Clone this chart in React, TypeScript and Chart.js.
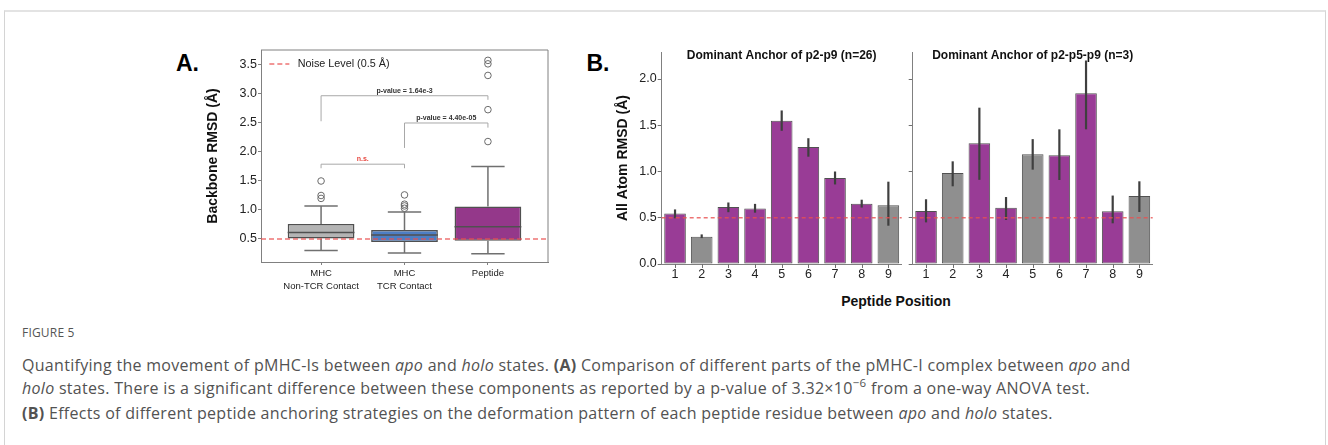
import React, { useEffect, useRef } from 'react';
import { Chart, registerables } from 'chart.js';
Chart.register(...registerables);

const FONT = "'Liberation Sans', Arial, Helvetica, sans-serif";
Chart.defaults.font.family = FONT;

// ---------- Panel A data ----------
const groupLabels = [['MHC', 'Non-TCR Contact'], ['MHC', 'TCR Contact'], ['Peptide']];
const boxQ1 = [0.51, 0.45, 0.47];
const boxQ3 = [0.76, 0.655, 1.06];
const boxMedian = [0.61, 0.57, 0.71];
const whiskerLow = [0.3, 0.26, 0.245];
const whiskerHigh = [1.07, 0.965, 1.75];
const outliers = [
  [1.5, 1.25, 1.2],
  [1.26, 1.1, 1.07, 1.03],
  [2.18, 2.73, 3.32, 3.52, 3.58],
];
const boxColors = ['#b4b4b4', '#4d7ec4', '#94388a'];
const yTicksA = [0.5, 1.0, 1.5, 2.0, 2.5, 3.0, 3.5];
const NOISE = 0.5;
const noiseLabel = 'Noise Level (0.5 Å)';

const bracketFrom = [0, 1, 0];
const bracketTo = [1, 2, 2];
const bracketTop = [1.79, 2.5, 2.97];
const bracketLegFrom = [1.72, 2.07, 2.53];
const bracketLegTo = [1.72, 2.42, 2.9];
const bracketText = ['n.s.', 'p-value = 4.40e-05', 'p-value = 1.64e-3'];
const bracketTextColor = ['#e8473f', '#333333', '#333333'];

// ---------- Panel B data ----------
const positions = ['1', '2', '3', '4', '5', '6', '7', '8', '9'];
const yTicksB = [0, 0.5, 1.0, 1.5, 2.0];
const titleP2P9 = 'Dominant Anchor of p2-p9 (n=26)';
const p2p9Mean = [0.545, 0.295, 0.615, 0.6, 1.55, 1.265, 0.93, 0.652, 0.634];
const p2p9Low = [0.494, 0.28, 0.56, 0.555, 1.44, 1.16, 0.86, 0.61, 0.414];
const p2p9High = [0.59, 0.32, 0.665, 0.65, 1.66, 1.36, 1.0, 0.695, 0.89];
const p2p9Anchor = [false, true, false, false, false, false, false, false, true];

const titleP2P5P9 = 'Dominant Anchor of p2-p5-p9 (n=3)';
const p2p5p9Mean = [0.573, 0.984, 1.305, 0.609, 1.186, 1.175, 1.845, 0.57, 0.735];
const p2p5p9Low = [0.45, 0.84, 0.91, 0.476, 1.02, 0.908, 1.456, 0.44, 0.562];
const p2p5p9High = [0.7, 1.11, 1.69, 0.724, 1.35, 1.456, 2.2, 0.74, 0.894];
const p2p5p9Anchor = [false, true, false, false, true, false, false, false, true];

const PURPLE = '#993c96';
const GRAY = '#8f8f8f';
const NOISE_COLOR = 'rgba(232, 80, 80, 0.8)';

// ---------- plugins ----------
const boxPlugin = {
  id: 'boxExtras',
  afterDatasetsDraw(chart: any) {
    const { ctx, chartArea: ca, scales } = chart;
    const x = scales.x;
    const y = scales.y;
    const meta = chart.getDatasetMeta(0);
    ctx.save();
    meta.data.forEach((bar: any, i: number) => {
      const cx = bar.x;
      const hw = bar.width / 2;
      const yHi = y.getPixelForValue(whiskerHigh[i]);
      const yLo = y.getPixelForValue(whiskerLow[i]);
      ctx.strokeStyle = '#707070';
      ctx.lineWidth = 1.5;
      ctx.beginPath();
      ctx.moveTo(cx, y.getPixelForValue(boxQ3[i]));
      ctx.lineTo(cx, yHi);
      ctx.moveTo(cx, y.getPixelForValue(boxQ1[i]));
      ctx.lineTo(cx, yLo);
      ctx.moveTo(cx - hw / 2, yHi);
      ctx.lineTo(cx + hw / 2, yHi);
      ctx.moveTo(cx - hw / 2, yLo);
      ctx.lineTo(cx + hw / 2, yLo);
      ctx.stroke();
      ctx.strokeStyle = '#505050';
      ctx.beginPath();
      const ym = y.getPixelForValue(boxMedian[i]);
      ctx.moveTo(cx - hw, ym);
      ctx.lineTo(cx + hw, ym);
      ctx.stroke();
    });
    // noise line
    const yn = y.getPixelForValue(NOISE);
    ctx.strokeStyle = NOISE_COLOR;
    ctx.lineWidth = 1.3;
    ctx.setLineDash([5, 3]);
    ctx.beginPath();
    ctx.moveTo(ca.left, yn);
    ctx.lineTo(ca.right, yn);
    ctx.stroke();
    // legend
    const ly = y.getPixelForValue(3.5) - 1;
    ctx.beginPath();
    ctx.moveTo(x.getPixelForValue(-0.62), ly);
    ctx.lineTo(x.getPixelForValue(-0.38), ly);
    ctx.stroke();
    ctx.setLineDash([]);
    ctx.fillStyle = '#222';
    ctx.font = `10.8px ${FONT}`;
    ctx.textAlign = 'left';
    ctx.textBaseline = 'middle';
    ctx.fillText(noiseLabel, x.getPixelForValue(-0.28), ly);
    // top/right spines
    ctx.strokeStyle = '#808080';
    ctx.lineWidth = 1;
    ctx.beginPath();
    ctx.moveTo(ca.left, ca.top);
    ctx.lineTo(ca.right, ca.top);
    ctx.lineTo(ca.right, ca.bottom);
    ctx.stroke();
    // brackets
    bracketText.forEach((t, i) => {
      const x1 = x.getPixelForValue(bracketFrom[i]);
      const x2 = x.getPixelForValue(bracketTo[i]);
      const yt = y.getPixelForValue(bracketTop[i]);
      ctx.strokeStyle = '#a8a8a8';
      ctx.lineWidth = 1;
      ctx.beginPath();
      ctx.moveTo(x1, y.getPixelForValue(bracketLegFrom[i]));
      ctx.lineTo(x1, yt);
      ctx.lineTo(x2, yt);
      ctx.lineTo(x2, y.getPixelForValue(bracketLegTo[i]));
      ctx.stroke();
      ctx.fillStyle = bracketTextColor[i];
      ctx.font = `bold 7px ${FONT}`;
      ctx.textAlign = 'center';
      ctx.textBaseline = 'bottom';
      ctx.fillText(t, (x1 + x2) / 2, yt - 1.5);
    });
    ctx.restore();
  },
};

const makeBarPlugin = (low: number[], high: number[], title: string) => ({
  id: 'barExtras',
  afterDatasetsDraw(chart: any) {
    const { ctx, chartArea: ca, scales } = chart;
    const y = scales.y;
    const meta = chart.getDatasetMeta(0);
    ctx.save();
    // x tick marks under each bar centre
    ctx.strokeStyle = '#707070';
    ctx.lineWidth = 1;
    ctx.beginPath();
    meta.data.forEach((bar: any) => {
      const bx = Math.round(bar.x) + 0.5;
      ctx.moveTo(bx, ca.bottom);
      ctx.lineTo(bx, ca.bottom + 4);
    });
    ctx.stroke();
    // error bars
    ctx.strokeStyle = '#3f3f3f';
    ctx.lineWidth = 2.2;
    meta.data.forEach((bar: any, i: number) => {
      ctx.beginPath();
      ctx.moveTo(bar.x, y.getPixelForValue(low[i]));
      ctx.lineTo(bar.x, y.getPixelForValue(high[i]));
      ctx.stroke();
    });
    const yn = y.getPixelForValue(NOISE);
    ctx.strokeStyle = NOISE_COLOR;
    ctx.lineWidth = 1.4;
    ctx.setLineDash([4, 3]);
    ctx.beginPath();
    ctx.moveTo(ca.left, yn);
    ctx.lineTo(ca.right, yn);
    ctx.stroke();
    ctx.setLineDash([]);
    ctx.fillStyle = '#111';
    ctx.font = `bold 12px ${FONT}`;
    ctx.textAlign = 'center';
    ctx.textBaseline = 'middle';
    ctx.fillText(title, (ca.left + ca.right) / 2, ca.top + 3.5);
    ctx.restore();
  },
});

// ---------- configs ----------
const configA = () => ({
  type: 'bar',
  data: {
    datasets: [
      {
        type: 'bar',
        data: boxQ1.map((q, i) => ({ x: i, y: [q, boxQ3[i]] })),
        backgroundColor: boxColors,
        borderColor: '#505050',
        borderWidth: 1.5,
        borderSkipped: false,
        barPercentage: 0.8,
        categoryPercentage: 1,
      },
      {
        type: 'scatter',
        data: outliers.flatMap((arr, i) => arr.map((v) => ({ x: i, y: v }))),
        pointRadius: 3.3,
        pointBackgroundColor: 'rgba(255,255,255,0)',
        pointBorderColor: '#6a6a6a',
        pointBorderWidth: 1,
      },
    ],
  },
  options: {
    animation: false,
    responsive: false,
    events: [],
    layout: { padding: { left: 44.6, top: 10, right: 12, bottom: 0 } },
    plugins: { legend: { display: false }, tooltip: { enabled: false } },
    scales: {
      x: {
        type: 'linear',
        offset: false,
        min: -0.72,
        max: 2.72,
        afterBuildTicks: (s: any) => {
          s.ticks = [0, 1, 2].map((v) => ({ value: v }));
        },
        ticks: {
          callback: (v: number) => groupLabels[v],
          font: { size: 9.5, lineHeight: 1.33 },
          color: '#222',
          padding: 2,
          maxRotation: 0,
          autoSkip: false,
        },
        grid: { drawOnChartArea: false, tickLength: 3, color: '#808080', offset: false },
        border: { color: '#808080' },
        afterFit: (s: any) => {
          s.height = 38;
        },
      },
      y: {
        min: 0.1034,
        max: 3.7586,
        afterBuildTicks: (s: any) => {
          s.ticks = yTicksA.map((v) => ({ value: v }));
        },
        ticks: {
          callback: (v: number) => v.toFixed(1),
          font: { size: 12.5 },
          color: '#222',
          padding: 1,
        },
        grid: { drawOnChartArea: false, tickLength: 3, color: '#808080' },
        border: { color: '#808080' },
        title: {
          display: true,
          text: 'Backbone RMSD (Å)',
          font: { size: 14, weight: 'bold' },
          color: '#111',
          padding: 0,
        },
        afterFit: (s: any) => {
          s.width = 56.4;
        },
      },
    },
  },
  plugins: [boxPlugin],
});

const configB = (
  mean: number[],
  low: number[],
  high: number[],
  anchor: boolean[],
  title: string,
  showY: boolean,
  padLeft: number,
  padRight: number,
  yWidth: number
) => ({
  type: 'bar',
  data: {
    labels: positions,
    datasets: [
      {
        data: mean,
        backgroundColor: anchor.map((a) => (a ? GRAY : PURPLE)),
        borderColor: 'rgba(50,50,50,0.85)',
        borderWidth: 1,
        borderSkipped: false,
        barPercentage: 0.81,
        categoryPercentage: 1,
      },
    ],
  },
  options: {
    animation: false,
    responsive: false,
    events: [],
    layout: { padding: { left: padLeft, top: 12, right: padRight, bottom: 0 } },
    plugins: { legend: { display: false }, tooltip: { enabled: false } },
    scales: {
      x: {
        grid: { display: false, drawTicks: true, tickLength: 4 },
        border: { display: true, color: '#808080' },
        ticks: { font: { size: 12.5, lineHeight: 1 }, color: '#222', padding: 0 },
        afterFit: (s: any) => {
          s.height = 20;
        },
      },
      y: {
        min: 0,
        max: 2.292,
        afterBuildTicks: (s: any) => {
          s.ticks = yTicksB.map((v) => ({ value: v }));
        },
        ticks: {
          display: showY,
          callback: (v: number) => v.toFixed(1),
          font: { size: 12.5 },
          color: '#222',
          padding: 1,
        },
        grid: { drawOnChartArea: false, tickLength: 4, color: '#707070' },
        border: { color: '#808080' },
        title: {
          display: showY,
          text: 'All Atom RMSD (Å)',
          font: { size: 14, weight: 'bold' },
          color: '#111',
          padding: 0,
        },
        afterFit: (s: any) => {
          s.width = yWidth;
        },
      },
    },
  },
  plugins: [makeBarPlugin(low, high, title)],
});

function ChartCanvas({ left, top, width, height, config }: any) {
  const ref = useRef<HTMLCanvasElement>(null);
  useEffect(() => {
    const chart = new Chart(ref.current as HTMLCanvasElement, config() as any);
    return () => chart.destroy();
  }, []);
  return (
    <canvas
      ref={ref}
      width={width}
      height={height}
      style={{ position: 'absolute', left, top, width, height }}
    />
  );
}

const capStyle: React.CSSProperties = {
  position: 'absolute',
  left: 22,
  top: 354,
  fontFamily: "'Open Sans', sans-serif",
  fontSize: '16px',
  letterSpacing: '0.3px',
  lineHeight: '23.3px',
  color: '#525252',
  whiteSpace: 'nowrap',
};

export default function App() {
  return (
    <div style={{ position: 'absolute', left: 0, top: 0, width: 1328, height: 445, overflow: 'hidden', background: '#fff' }}>
      <div
        style={{
          position: 'absolute',
          left: 4,
          top: 10,
          width: 1322,
          height: 500,
          borderLeft: '1px solid #d4d4d4',
          borderRight: '1px solid #d4d4d4',
          borderTop: '2px solid #e3e3e3',
          boxSizing: 'border-box',
        }}
      />
      <div style={{ position: 'absolute', left: 176, top: 52, font: `bold 23px ${FONT}`, lineHeight: 1, color: '#000' }}>A.</div>
      <div style={{ position: 'absolute', left: 586.5, top: 52, font: `bold 23px ${FONT}`, lineHeight: 1, color: '#000' }}>B.</div>
      <ChartCanvas left={160} top={40} width={400} height={260} config={configA} />
      <ChartCanvas
        left={600}
        top={40}
        width={310}
        height={244}
        config={() => configB(p2p9Mean, p2p9Low, p2p9High, p2p9Anchor, titleP2P9, true, 14.6, 8.3, 47.1)}
      />
      <ChartCanvas
        left={905}
        top={40}
        width={260}
        height={244}
        config={() => configB(p2p5p9Mean, p2p5p9Low, p2p5p9High, p2p5p9Anchor, titleP2P5P9, false, 0, 12.3, 7.7)}
      />
      <div style={{ position: 'absolute', left: 796, width: 200, top: 293, textAlign: 'center', font: `bold 14px ${FONT}`, lineHeight: '16px', color: '#111' }}>
        Peptide Position
      </div>
      <div style={{ position: 'absolute', left: 22, top: 324.6, fontFamily: "'Open Sans', sans-serif", fontSize: '12px', lineHeight: '16px', color: '#555', letterSpacing: '0.2px' }}>
        FIGURE 5
      </div>
      <div style={capStyle}>
        Quantifying the movement of pMHC-Is between <i>apo</i> and <i>holo</i> states. <b>(A)</b> Comparison of different parts of the pMHC-I complex between <i>apo</i> and
        <br />
        <i>holo</i> states. There is a significant difference between these components as reported by a p-value of 3.32×10
        <span style={{ fontSize: '0.72em', position: 'relative', top: '-0.6em' }}>−6</span> from a one-way ANOVA test.
        <br />
        <b>(B)</b> Effects of different peptide anchoring strategies on the deformation pattern of each peptide residue between <i>apo</i> and <i>holo</i> states.
      </div>
    </div>
  );
}
